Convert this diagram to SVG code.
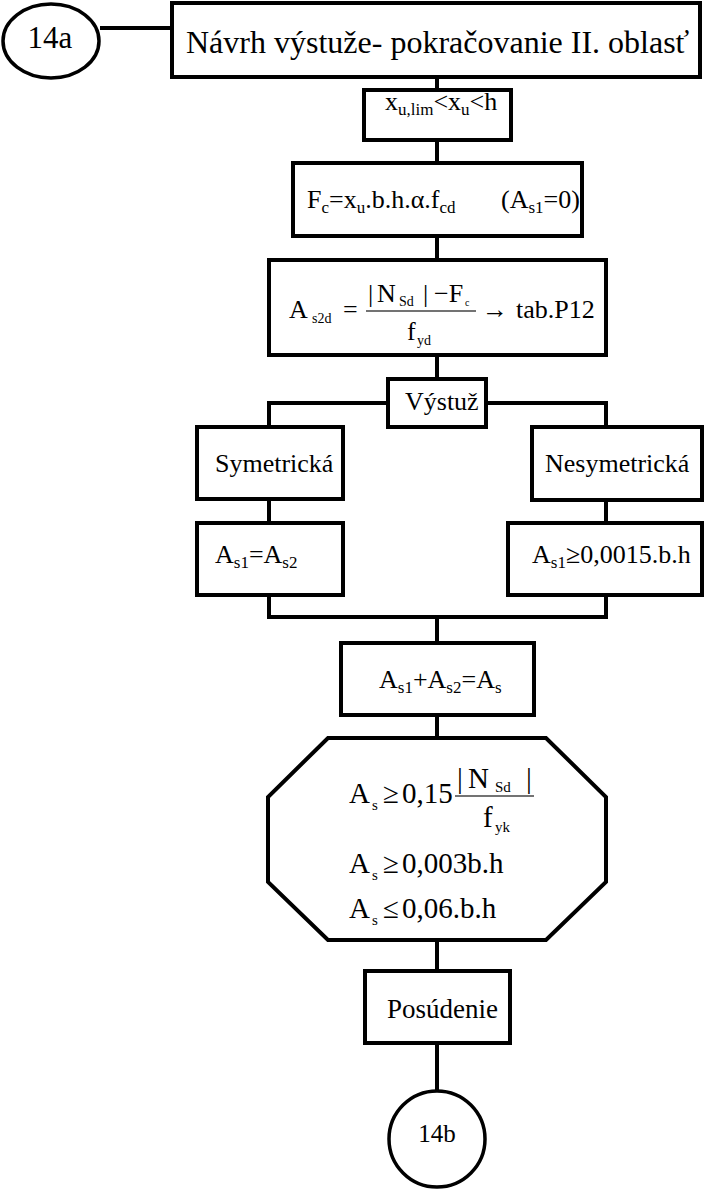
<svg xmlns="http://www.w3.org/2000/svg" width="704" height="1191" viewBox="0 0 704 1191">
  <style>
    .box { fill: #fff; stroke: #000; stroke-width: 4; }
    .wire { fill: none; stroke: #000; stroke-width: 4; }
    .bar { stroke: #444; stroke-width: 1.5; }
    text { font-family: "Liberation Serif", "Times New Roman", serif; fill: #000; }
    .t { font-size: 26px; }
    .sub { font-size: 17px; }
    .eq { font-size: 26px; }
    .es { font-size: 14px; }
    .oq { font-size: 29px; }
    .os { font-size: 15px; }
  </style>

  <!-- connectors -->
  <g id="connectors">
    <line class="wire" x1="100" y1="28" x2="172" y2="28"/>
    <line class="wire" x1="437" y1="77" x2="437" y2="90"/>
    <line class="wire" x1="437" y1="140" x2="437" y2="163"/>
    <line class="wire" x1="437" y1="236" x2="437" y2="260"/>
    <line class="wire" x1="437" y1="355" x2="437" y2="379"/>
    <polyline class="wire" points="388,403 269,403 269,427"/>
    <polyline class="wire" points="486,403 606,403 606,427"/>
    <line class="wire" x1="269" y1="499" x2="269" y2="523"/>
    <line class="wire" x1="606" y1="500" x2="606" y2="523"/>
    <polyline class="wire" points="269,595 269,617 606,617 606,595"/>
    <line class="wire" x1="437" y1="617" x2="437" y2="643"/>
    <line class="wire" x1="437" y1="715" x2="437" y2="738"/>
    <line class="wire" x1="437" y1="940" x2="437" y2="971"/>
    <line class="wire" x1="437" y1="1043" x2="437" y2="1090"/>
  </g>

  <!-- entry connector -->
  <g id="start-14a">
    <ellipse class="box" cx="51" cy="41" rx="48" ry="37" style="stroke-width:3.5"/>
    <text x="50" y="48" font-size="31" text-anchor="middle">14a</text>
  </g>

  <g id="title">
    <rect class="box" x="172" y="3" width="528" height="74"/>
    <text x="186" y="53" font-size="32">Návrh výstuže- pokračovanie II. oblasť</text>
  </g>

  <g id="range">
    <rect class="box" x="364" y="90" width="147" height="50"/>
    <text class="t" x="385" y="110">x<tspan class="sub" dy="5">u,lim</tspan><tspan dy="-5">&lt;x</tspan><tspan class="sub" dy="5">u</tspan><tspan dy="-5">&lt;h</tspan></text>
  </g>

  <g id="concrete-force">
    <rect class="box" x="293" y="163" width="289" height="73"/>
    <text class="t" x="307" y="208">F<tspan class="sub" dy="5">c</tspan><tspan dy="-5">=x</tspan><tspan class="sub" dy="5">u</tspan><tspan dy="-5">.b.h.α.f</tspan><tspan class="sub" dy="5">cd</tspan></text>
    <text class="t" x="501" y="208">(A<tspan class="sub" dy="5">s1</tspan><tspan dy="-5">=0)</tspan></text>
  </g>

  <g id="steel-area">
    <rect class="box" x="269" y="260" width="337" height="95"/>
    <text class="eq" x="289" y="318">A</text>
    <text class="es" x="312" y="323">s2d</text>
    <text class="eq" x="343" y="318">=</text>
    <line class="bar" x1="366" y1="311" x2="476" y2="311"/>
    <text class="eq" x="368" y="302">|</text>
    <text class="eq" x="377" y="302">N</text>
    <text class="es" x="399" y="306">Sd</text>
    <text class="eq" x="423" y="302">|</text>
    <text class="eq" x="434" y="302">−F</text>
    <text x="465" y="306" font-size="10">c</text>
    <text class="eq" x="407" y="340">f</text>
    <text class="es" x="417" y="345">yd</text>
    <text class="eq" x="482" y="318">→</text>
    <text class="eq" x="516" y="318">tab.P12</text>
  </g>

  <g id="reinforcement">
    <rect class="box" x="388" y="379" width="98" height="48"/>
    <text class="t" x="405" y="410">Výstuž</text>
  </g>

  <g id="symmetric">
    <rect class="box" x="197" y="427" width="146" height="72"/>
    <text class="t" x="215" y="472">Symetrická</text>
  </g>

  <g id="asymmetric">
    <rect class="box" x="532" y="427" width="170" height="73"/>
    <text class="t" x="545" y="472">Nesymetrická</text>
  </g>

  <g id="symmetric-rule">
    <rect class="box" x="197" y="523" width="146" height="72"/>
    <text class="t" x="215" y="563">A<tspan class="sub" dy="5">s1</tspan><tspan dy="-5">=A</tspan><tspan class="sub" dy="5">s2</tspan></text>
  </g>

  <g id="asymmetric-rule">
    <rect class="box" x="508" y="523" width="194" height="72"/>
    <text class="t" x="532" y="563">A<tspan class="sub" dy="5">s1</tspan><tspan dy="-5">≥0,0015.b.h</tspan></text>
  </g>

  <g id="total-area">
    <rect class="box" x="341" y="643" width="193" height="72"/>
    <text class="t" x="379" y="688">A<tspan class="sub" dy="5">s1</tspan><tspan dy="-5">+A</tspan><tspan class="sub" dy="5">s2</tspan><tspan dy="-5">=A</tspan><tspan class="sub" dy="5">s</tspan></text>
  </g>

  <g id="limits">
    <polygon class="box" points="328,738 546,738 606,797 606,882 546,940 328,940 268,882 268,797"/>
    <text class="oq" x="349" y="803">A</text>
    <text class="os" x="372" y="810">s</text>
    <text class="oq" x="383" y="803">≥</text>
    <text class="oq" x="402" y="803">0,15</text>
    <line class="bar" x1="455" y1="796" x2="534" y2="796"/>
    <text class="oq" x="457" y="788">|</text>
    <text class="oq" x="468" y="788">N</text>
    <text class="os" x="495" y="792">Sd</text>
    <text class="oq" x="526" y="788">|</text>
    <text class="oq" x="483" y="827">f</text>
    <text class="os" x="495" y="832">yk</text>
    <text class="oq" x="349" y="873">A</text>
    <text class="os" x="372" y="880">s</text>
    <text class="oq" x="383" y="873">≥</text>
    <text class="oq" x="402" y="873">0,003b.h</text>
    <text class="oq" x="349" y="918">A</text>
    <text class="os" x="372" y="925">s</text>
    <text class="oq" x="383" y="918">≤</text>
    <text class="oq" x="402" y="918">0,06.b.h</text>
  </g>

  <g id="check">
    <rect class="box" x="365" y="971" width="145" height="72"/>
    <text x="387" y="1018" font-size="27">Posúdenie</text>
  </g>

  <g id="end-14b">
    <ellipse class="box" cx="437" cy="1139" rx="48" ry="48" style="stroke-width:3.5"/>
    <text x="437" y="1142" font-size="25" text-anchor="middle">14b</text>
  </g>
</svg>
